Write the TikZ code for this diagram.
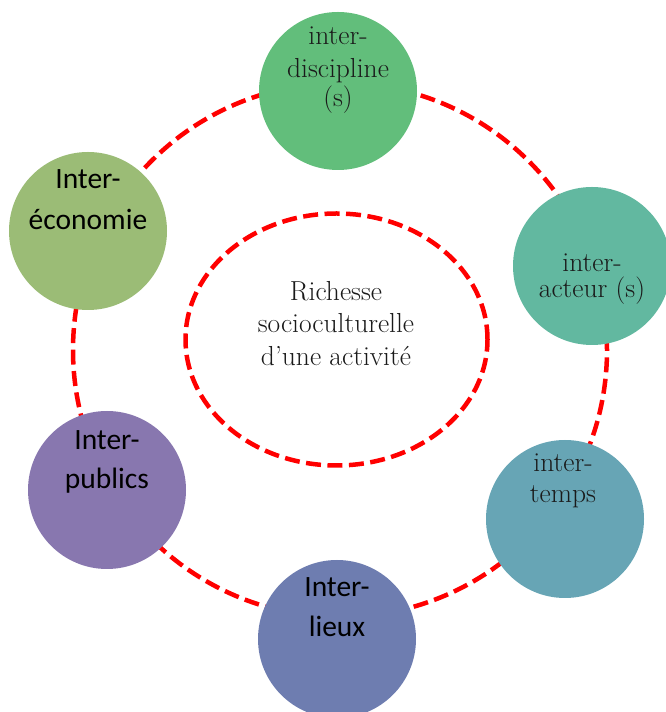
\documentclass[tikz,border=0pt]{standalone}
\usepackage{fontspec}
\newfontfamily\sansfont{Carlito}
\usetikzlibrary{shapes.geometric}
\definecolor{cDisc}{HTML}{62BE7B}
\definecolor{cAct}{HTML}{62B8A0}
\definecolor{cTemps}{HTML}{67A5B5}
\definecolor{cLieux}{HTML}{6E7DB0}
\definecolor{cPub}{HTML}{8877AF}
\definecolor{cEco}{HTML}{9BBC76}
\definecolor{serifgray}{HTML}{1A1A1A}
\tikzset{
  ring/.style={draw=red, line width=4.5pt, dash pattern=on 15pt off 6.5pt},
  bubble/.style={circle, minimum size=158pt, inner sep=0pt, draw=none},
  serlbl/.style={anchor=base, inner sep=0pt, text=serifgray, font=\fontsize{27.5}{32}\selectfont},
  sanslbl/.style={anchor=base, inner sep=0pt, text=black, font=\sansfont\fontsize{29.5}{34}\selectfont},
}
\begin{document}
\begin{tikzpicture}[x=1pt,y=1pt]
\useasboundingbox (0,0) rectangle (665,712);
% outer dashed ring
\draw[ring] (340,362) circle (267);
% inner ellipse
\node[ring, ellipse, minimum width=302pt, minimum height=252pt, inner sep=0pt] (centre) at (336.5,372.5) {};
\node[serlbl] (c1) at (336,411) {Richesse};
\node[serlbl] (c2) at (336,379) {socioculturelle};
\node[serlbl] (c3) at (336,346) {d’une activité};
% bubbles
\node[bubble, fill=cDisc] (disc) at (338,621) {};
\node[bubble, fill=cAct] (act) at (592,446) {};
\node[bubble, fill=cTemps] (temps) at (565,193) {};
\node[bubble, fill=cLieux] (lieux) at (337,73) {};
\node[bubble, fill=cPub] (pub) at (107,222) {};
\node[bubble, fill=cEco] (eco) at (88,481) {};
% labels
\node[serlbl] (d1) at (338,667) {inter-};
\node[serlbl] (d2) at (338,634) {discipline};
\node[serlbl] (d3) at (338,605) {(s)};
\node[serlbl] (a1) at (592,440) {inter-};
\node[serlbl] (a2) at (592,414) {acteur (s)};
\node[serlbl] (t1) at (563,240) {inter-};
\node[serlbl] (t2) at (563,209) {temps};
\node[sanslbl] (e1) at (88,523) {Inter-};
\node[sanslbl] (e2) at (88,482) {économie};
\node[sanslbl] (p1) at (107,262) {Inter-};
\node[sanslbl] (p2) at (107,223) {publics};
\node[sanslbl] (l1) at (337,115) {Inter-};
\node[sanslbl] (l2) at (337,75) {lieux};
\end{tikzpicture}
\end{document}
